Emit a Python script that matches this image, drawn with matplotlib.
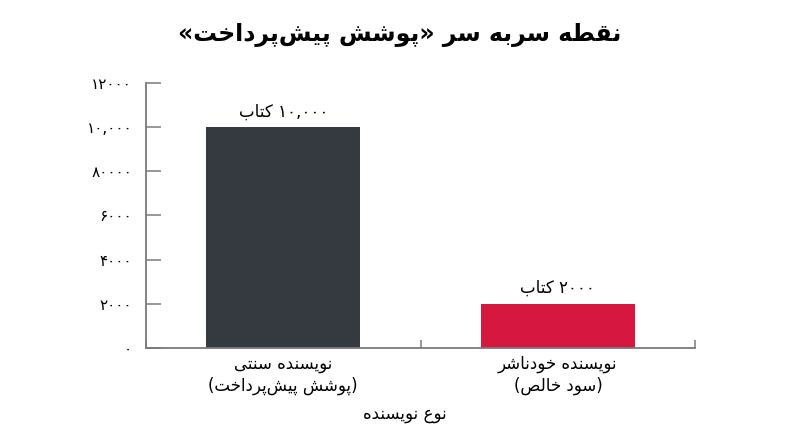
import re
import matplotlib
matplotlib.use("Agg")
import matplotlib.pyplot as plt

# chart data
categories = ["نویسنده سنتی\n(پوشش پیش‌پرداخت)", "نویسنده خودناشر\n(سود خالص)"]
values = [10000, 2000]
value_labels = ["۱۰,۰۰۰ کتاب", "۲۰۰۰ کتاب"]
bar_colors = ["#343a3f", "#d6173f"]
y_ticks = [0, 2000, 4000, 6000, 8000, 10000, 12000]
# tick labels copied as printed on the original (including the 8000 typo)
y_tick_labels = ["۰", "۲۰۰۰", "۴۰۰۰", "۶۰۰۰", "۸۰۰۰۰", "۱۰,۰۰۰", "۱۲۰۰۰"]
title = "نقطه سربه سر «پوشش پیش‌پرداخت»"
x_label = "نوع نویسنده"

# matplotlib has no arabic shaping / bidi, so do a small version by hand
# (isolated, final, initial, medial)
FORMS = {
    'ا': ('\uFE8D', '\uFE8E', None, None),
    'ب': ('\uFE8F', '\uFE90', '\uFE91', '\uFE92'),
    'پ': ('\uFB56', '\uFB57', '\uFB58', '\uFB59'),
    'ت': ('\uFE95', '\uFE96', '\uFE97', '\uFE98'),
    'خ': ('\uFEA5', '\uFEA6', '\uFEA7', '\uFEA8'),
    'د': ('\uFEA9', '\uFEAA', None, None),
    'ر': ('\uFEAD', '\uFEAE', None, None),
    'س': ('\uFEB1', '\uFEB2', '\uFEB3', '\uFEB4'),
    'ش': ('\uFEB5', '\uFEB6', '\uFEB7', '\uFEB8'),
    'ص': ('\uFEB9', '\uFEBA', '\uFEBB', '\uFEBC'),
    'ط': ('\uFEC1', '\uFEC2', '\uFEC3', '\uFEC4'),
    'ع': ('\uFEC9', '\uFECA', '\uFECB', '\uFECC'),
    'ق': ('\uFED5', '\uFED6', '\uFED7', '\uFED8'),
    'ک': ('\uFB8E', '\uFB8F', '\uFB90', '\uFB91'),
    'ل': ('\uFEDD', '\uFEDE', '\uFEDF', '\uFEE0'),
    'ن': ('\uFEE5', '\uFEE6', '\uFEE7', '\uFEE8'),
    'ه': ('\uFEE9', '\uFEEA', '\uFEEB', '\uFEEC'),
    'و': ('\uFEED', '\uFEEE', None, None),
    'ی': ('\uFBFC', '\uFBFD', '\uFBFE', '\uFBFF'),
}
MIRROR = {'(': ')', ')': '(', '«': '»', '»': '«'}
DIGITS = "۰۱۲۳۴۵۶۷۸۹0123456789"


def shape(s):
    out = []
    for i, ch in enumerate(s):
        if ch not in FORMS:
            out.append(ch)
            continue
        prev = s[i - 1] if i > 0 else ''
        nxt = s[i + 1] if i + 1 < len(s) else ''
        joins_prev = prev in FORMS and FORMS[prev][2] is not None
        joins_next = FORMS[ch][2] is not None and nxt in FORMS
        if joins_prev and joins_next:
            idx = 3
        elif joins_prev:
            idx = 1
        elif joins_next:
            idx = 2
        else:
            idx = 0
        out.append(FORMS[ch][idx])
    return ''.join(out).replace('\u200c', '')


def fa_line(s):
    tokens = re.findall(r'[۰-۹0-9][۰-۹0-9,]*|[^۰-۹0-9]+', shape(s))
    vis = []
    for t in reversed(tokens):
        if t[0] in DIGITS:
            vis.append(t)
        else:
            vis.append(''.join(MIRROR.get(c, c) for c in reversed(t)))
    return ''.join(vis)


def fa(s):
    return '\n'.join(fa_line(line) for line in s.split('\n'))


plt.rcParams['font.family'] = ['DejaVu Sans']

fig = plt.figure(figsize=(8, 4.47), dpi=100)
ax = fig.add_axes([0.1825, 0.2215, 0.6865, 0.5928])

x = list(range(len(values)))
bars = ax.bar(x, values, width=0.56, color=bar_colors)
ax.bar_label(bars, labels=[fa(v) for v in value_labels], padding=5, fontsize=12)

ax.set_xlim(-0.5, len(values) - 0.5)
ax.set_ylim(0, 12000)

ax.set_yticks(y_ticks)
ax.set_yticklabels([fa(t) for t in y_tick_labels], fontsize=11)
ax.set_xticks([-0.5, 0.5, 1.5])
ax.set_xticklabels([])
ax.set_xticks(x, minor=True)
ax.set_xticklabels([fa(c) for c in categories], minor=True, fontsize=12,
                   linespacing=1.3)

for side in ['top', 'right']:
    ax.spines[side].set_visible(False)
for side in ['left', 'bottom']:
    ax.spines[side].set_color('#7a7a7a')
    ax.spines[side].set_linewidth(1.3)

ax.tick_params(axis='y', direction='in', length=11, width=1.1,
               color='#7a7a7a', pad=10)
ax.tick_params(axis='x', which='major', direction='in', length=6, width=1.1,
               color='#7a7a7a')
ax.tick_params(axis='x', which='minor', length=0, pad=5)

ax.set_xlabel(fa(x_label), fontsize=12, x=0.472, labelpad=7)
fig.text(0.5, 1 - 35 / 447, fa(title), ha='center', va='center',
         fontsize=17, fontweight='bold')

fig.savefig('out.png', dpi=100)
